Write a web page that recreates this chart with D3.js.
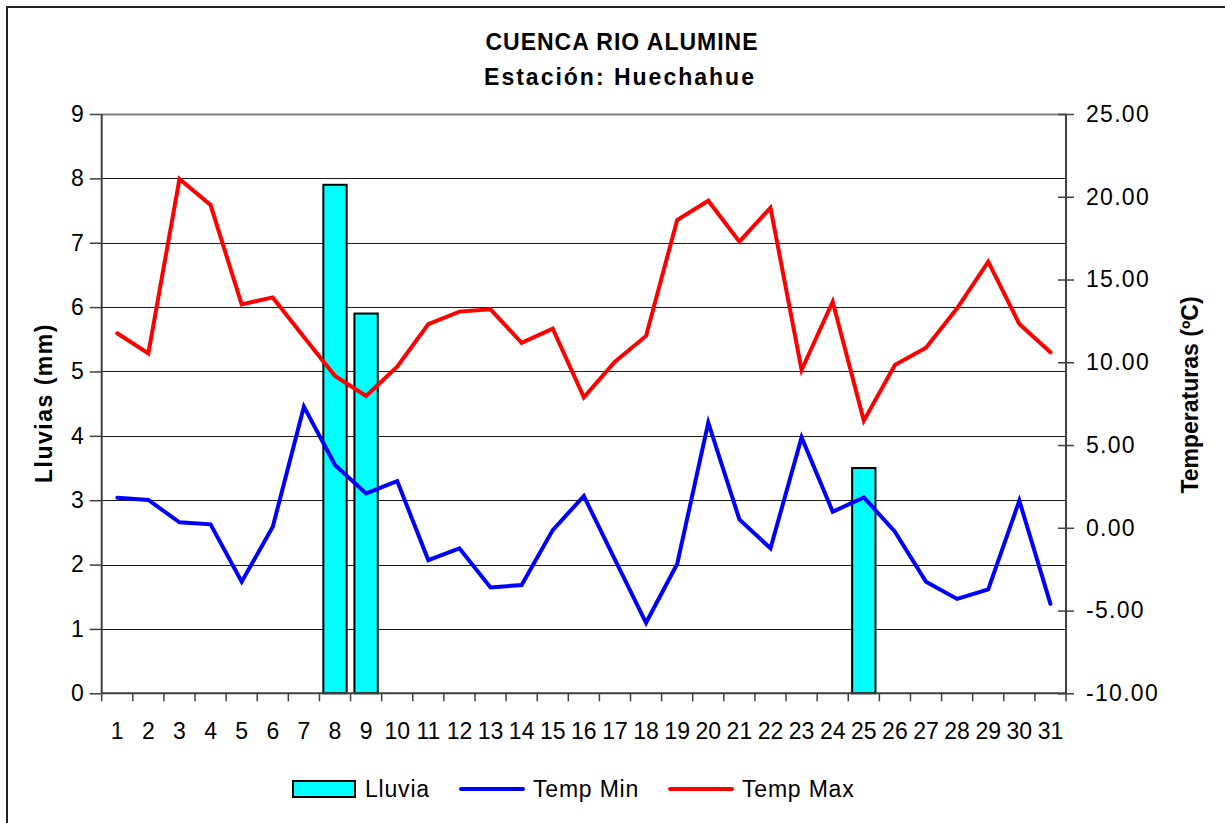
<!DOCTYPE html>
<html>
<head>
<meta charset="utf-8">
<script src="https://cdn.jsdelivr.net/npm/d3@7"></script>
<style>
  html, body { margin: 0; padding: 0; background: #fff; }
  svg { display: block; font-family: "Liberation Sans", Arial, sans-serif; }
</style>
</head>
<body>
<svg id="chart" width="1225" height="823"></svg>
<script>
// ---- data ----
const days = d3.range(1, 32);
const lluvia = [0,0,0,0,0,0,0,7.9,5.9,0,0,0,0,0,0,0,0,0,0,0,0,0,0,0,3.5,0,0,0,0,0,0];
const tempMin = [1.82,1.68,0.33,0.21,-3.26,0.06,7.32,3.79,2.08,2.82,-1.95,-1.24,-3.6,-3.46,-0.14,1.92,-1.93,-5.74,-2.19,6.35,0.51,-1.24,5.46,0.97,1.84,-0.24,-3.26,-4.3,-3.72,1.64,-4.6];
const tempMax = [11.75,10.54,21.07,19.5,13.5,13.92,11.53,9.17,7.96,9.73,12.31,13.06,13.2,11.18,12.03,7.88,10.04,11.59,18.6,19.76,17.29,19.34,9.53,13.66,6.47,9.83,10.88,13.26,16.08,12.31,10.6];
const leftTicks = [0,1,2,3,4,5,6,7,8,9];
const rightTicks = [-10,-5,0,5,10,15,20,25];
const titleLines = ["CUENCA RIO ALUMINE", "Estación: Huechahue"];
const legendItems = [
  {label: "Lluvia", type: "bar"},
  {label: "Temp Min", type: "line", color: "#0000ff"},
  {label: "Temp Max", type: "line", color: "#ff0000"}
];

// ---- layout ----
const svg = d3.select("#chart");
const L = 101.7, R = 1066, T = 114, B = 693.3;

const x = d3.scaleBand().domain(days).range([L, R]).padding(0);
const yL = d3.scaleLinear().domain([0, 9]).range([B, T]);
const yR = d3.scaleLinear().domain([-10, 25]).range([B, T]);

// outer border (only top/left visible)
svg.append("rect").attr("x", 7).attr("y", 7).attr("width", 1240).attr("height", 840)
  .attr("fill", "none").attr("stroke", "#222").attr("stroke-width", 2);

// gridlines
svg.append("g").selectAll("line").data(leftTicks.filter(d => d > 0)).join("line")
  .attr("x1", L).attr("x2", R)
  .attr("y1", d => Math.round(yL(d)) + 0.5).attr("y2", d => Math.round(yL(d)) + 0.5)
  .attr("stroke", d => d === 9 ? "#808080" : "#1a1a1a").attr("stroke-width", d => d === 9 ? 2 : 1);

// bars
const bw = x.bandwidth() * 0.75;
svg.append("g").selectAll("rect").data(days.filter((d, i) => lluvia[i] > 0)).join("rect")
  .attr("x", d => x(d) + (x.bandwidth() - bw) / 2)
  .attr("width", bw)
  .attr("y", d => yL(lluvia[d - 1]))
  .attr("height", d => B - yL(lluvia[d - 1]))
  .attr("fill", "#00ffff").attr("stroke", "#000").attr("stroke-width", 2);

// lines
const cx = d => x(d) + x.bandwidth() / 2;
const lineGen = d3.line().x((d, i) => cx(days[i])).y(d => yR(d));
svg.append("path").datum(tempMin).attr("d", lineGen)
  .attr("fill", "none").attr("stroke", "#0000ff").attr("stroke-width", 4)
  .attr("stroke-linejoin", "miter").attr("stroke-linecap", "round");
svg.append("path").datum(tempMax).attr("d", lineGen)
  .attr("fill", "none").attr("stroke", "#ff0000").attr("stroke-width", 4)
  .attr("stroke-linejoin", "miter").attr("stroke-linecap", "round");

// axes
const axisColor = "#404040";
const fmtR = d => d3.format(".2f")(d).replace("\u2212", "-");
const gL = svg.append("g").attr("transform", `translate(${L},0)`)
  .call(d3.axisLeft(yL).tickValues(leftTicks).tickSize(12).tickPadding(6).tickFormat(d3.format("d")));
const gR = svg.append("g").attr("transform", `translate(${R},0)`)
  .call(d3.axisRight(yR).tickValues(rightTicks).tickSize(8).tickPadding(12).tickFormat(fmtR));
gR.selectAll(".tick line").attr("x1", -8);
const gX = svg.append("g").attr("transform", `translate(0,${B})`)
  .call(d3.axisBottom(x).tickSize(0).tickPadding(29).tickFormat(d3.format("d")));
// boundary ticks for the category axis
gX.append("g").selectAll("line").data(d3.range(0, days.length + 1)).join("line")
  .attr("x1", i => L + i * x.step()).attr("x2", i => L + i * x.step())
  .attr("y1", 0).attr("y2", 8).attr("stroke", axisColor).attr("stroke-width", 1.5);

[gL, gR, gX].forEach(g => {
  g.select(".domain").attr("stroke", axisColor).attr("stroke-width", 2);
  g.selectAll(".tick line").attr("stroke", axisColor).attr("stroke-width", 1.5);
  g.selectAll("text").attr("fill", "#000").style("font-size", "23px")
    .style("font-family", "'Liberation Sans', Arial, sans-serif");
});
gX.select(".domain").attr("d", `M${L},0H${R}`);
gL.select(".domain").attr("d", `M0,${B}V${T}`);
gR.select(".domain").attr("d", `M0,${B}V${T}`);
gR.selectAll("text").style("letter-spacing", "1.3px");

// titles
const title = svg.append("text").attr("text-anchor", "middle")
  .style("font-weight", "bold").style("font-size", "23px");
title.append("tspan").attr("x", 622).attr("y", 50).style("letter-spacing", "1px").text(titleLines[0]);
title.append("tspan").attr("x", 620).attr("y", 85).style("letter-spacing", "2px").text(titleLines[1]);

svg.append("text").attr("transform", "translate(52,403) rotate(-90)")
  .attr("text-anchor", "middle").style("font-weight", "bold").style("font-size", "23px")
  .style("letter-spacing", "1.5px").text("Lluvias (mm)");
svg.append("text").attr("transform", "translate(1198,395) rotate(-90)")
  .attr("text-anchor", "middle").style("font-weight", "bold").style("font-size", "23px")
  .text("Temperaturas (ºC)");

// legend
const legX = [293, 461, 670];
const lg = svg.append("g");
legendItems.forEach((it, i) => {
  const g = lg.append("g").attr("transform", `translate(${legX[i]},789)`);
  if (it.type === "bar") {
    g.append("rect").attr("x", 0).attr("y", -8).attr("width", 62).attr("height", 16)
      .attr("fill", "#00ffff").attr("stroke", "#000").attr("stroke-width", 2);
  } else {
    g.append("line").attr("x1", 0).attr("x2", 62).attr("y1", 0).attr("y2", 0)
      .attr("stroke", it.color).attr("stroke-width", 4).attr("stroke-linecap", "round");
  }
  g.append("text").attr("x", 72).attr("y", 8).style("font-size", "23px")
    .style("letter-spacing", "0.8px").text(it.label);
});
</script>
</body>
</html>
